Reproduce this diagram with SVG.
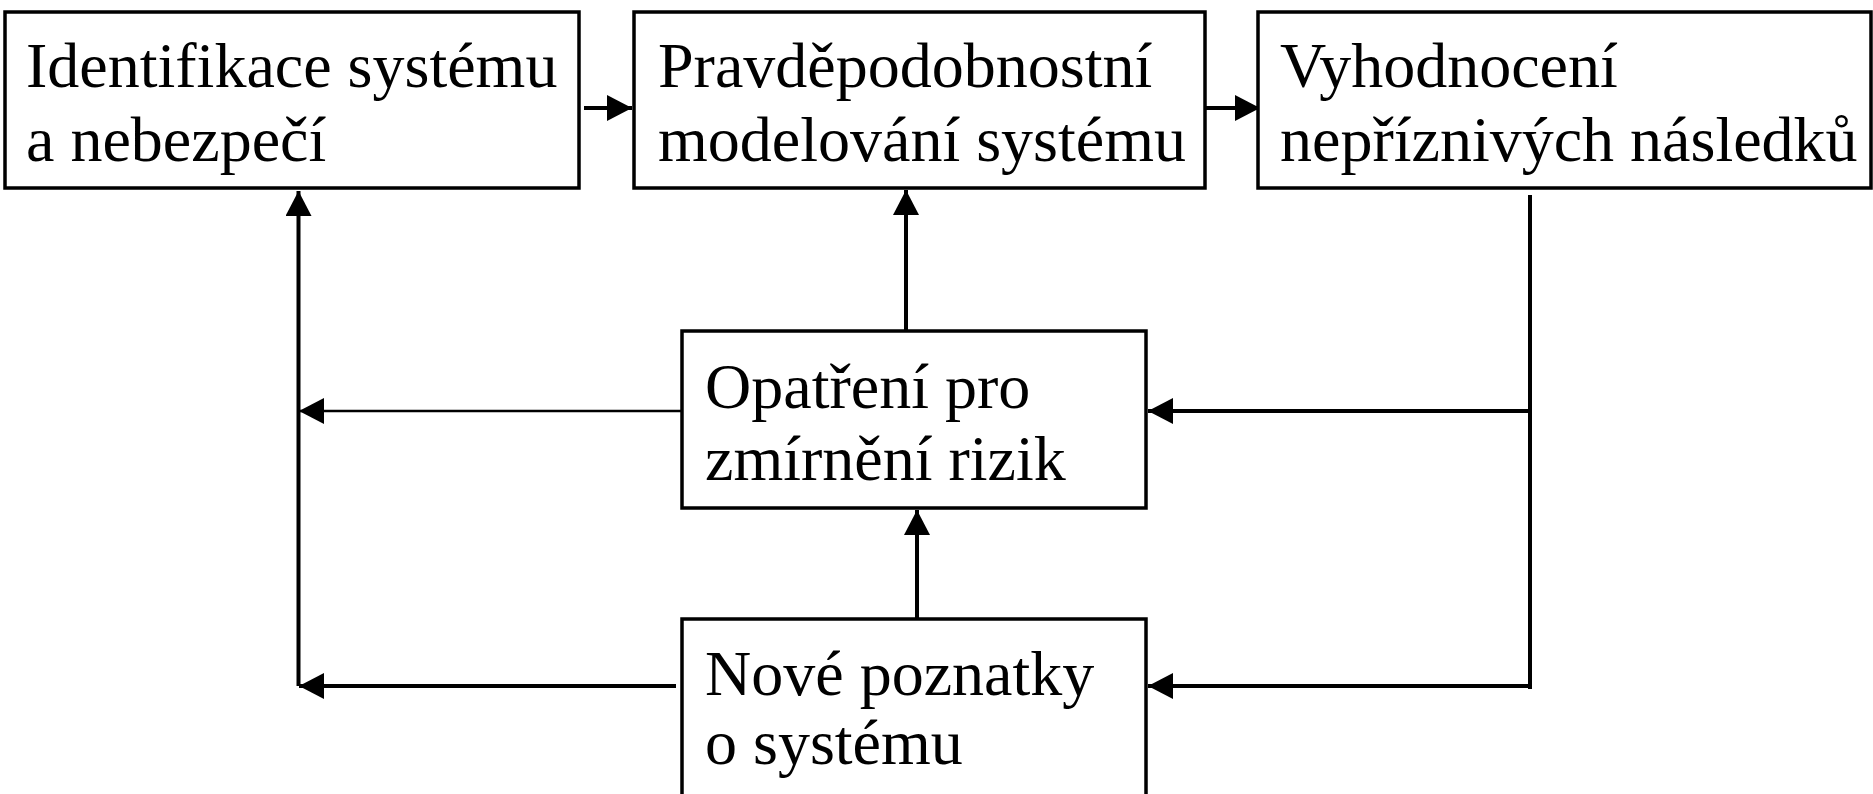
<svg xmlns="http://www.w3.org/2000/svg" width="1873" height="794" viewBox="0 0 1873 794">
<style>
.box{fill:#fff;stroke:#000;stroke-width:3.5}
.t{font-family:"Liberation Serif","Times New Roman",serif;font-size:64px;fill:#000}
.c{fill:none;stroke:#000;stroke-width:4}
.thin{stroke-width:2.5}
</style>
<defs>
<marker id="ah" viewBox="0 0 25 26" refX="25" refY="13" markerWidth="25" markerHeight="26" markerUnits="userSpaceOnUse" orient="auto">
<path d="M0,0 L25,13 L0,26 z" fill="#000"/>
</marker>
</defs>
<rect width="1873" height="794" fill="#fff"/>
<g id="connectors">
<path class="c" d="M584,108 H632" marker-end="url(#ah)"/>
<path class="c" d="M1205,108 H1260" marker-end="url(#ah)"/>
<path class="c" d="M906,331 V190" marker-end="url(#ah)"/>
<path class="c" d="M917,619 V510" marker-end="url(#ah)"/>
<path class="c" d="M298.5,686 V191" marker-end="url(#ah)"/>
<path class="c thin" d="M682,411 H299" marker-end="url(#ah)"/>
<path class="c" d="M676,686 H299" marker-end="url(#ah)"/>
<path class="c" d="M1530,195 V689"/>
<path class="c" d="M1530,411 H1148" marker-end="url(#ah)"/>
<path class="c" d="M1530,686 H1148" marker-end="url(#ah)"/>
</g>
<g id="n1">
<rect class="box" x="5" y="12" width="574" height="176"/>
<text class="t" x="26" y="87">Identifikace systému</text>
<text class="t" x="26" y="161">a nebezpečí</text>
</g>
<g id="n2">
<rect class="box" x="634" y="12" width="571" height="176"/>
<text class="t" x="658" y="87">Pravděpodobnostní</text>
<text class="t" x="658" y="161">modelování systému</text>
</g>
<g id="n3">
<rect class="box" x="1258" y="12" width="613" height="176"/>
<text class="t" x="1280" y="87">Vyhodnocení</text>
<text class="t" x="1280" y="161">nepříznivých následků</text>
</g>
<g id="n4">
<rect class="box" x="682" y="331" width="464" height="177"/>
<text class="t" x="705" y="408">Opatření pro</text>
<text class="t" x="705" y="480">zmírnění rizik</text>
</g>
<g id="n5">
<rect class="box" x="682" y="619" width="464" height="190"/>
<text class="t" x="705" y="695">Nové poznatky</text>
<text class="t" x="705" y="764">o systému</text>
</g>
</svg>
